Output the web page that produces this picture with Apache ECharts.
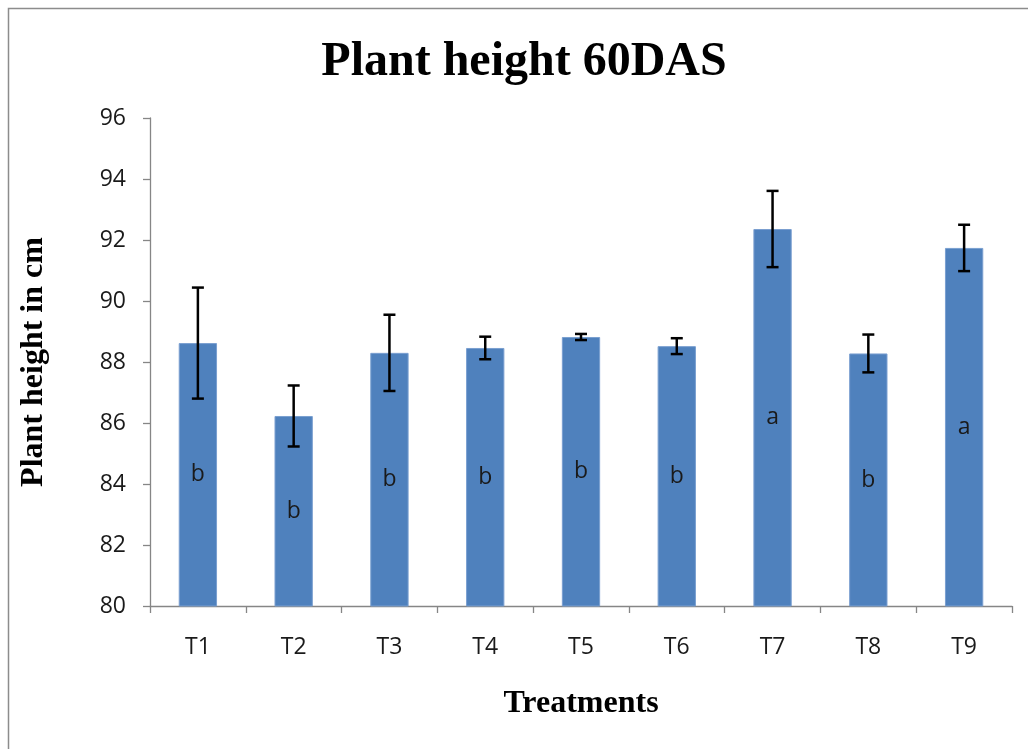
<!DOCTYPE html>
<html>
<head>
<meta charset="utf-8">
<script src="https://cdn.jsdelivr.net/npm/echarts@6/dist/echarts.min.js"></script>
<style>
html,body{margin:0;padding:0;background:#fff;}
#chart{width:1028px;height:749px;}
</style>
</head>
<body>
<div id="chart"></div>
<script>
const categories = ['T1','T2','T3','T4','T5','T6','T7','T8','T9'];
const heights = [88.62, 86.23, 88.30, 88.46, 88.82, 88.52, 92.36, 88.28, 91.74];
const errors = [1.82, 1.0, 1.25, 0.37, 0.1, 0.26, 1.25, 0.62, 0.76];
const letters = ['b','b','b','b','b','b','a','b','a'];
const yTicks = {min: 80, max: 96, interval: 2};

const errData = heights.map((h, i) => [i, h - errors[i], h + errors[i]]);

const chart = echarts.init(document.getElementById('chart'));
chart.setOption({
  animation: false,
  backgroundColor: '#fff',
  title: {
    text: 'Plant height 60DAS',
    left: 519, top: 34, textAlign: 'center',
    textStyle: {fontFamily: 'Liberation Serif', fontWeight: 'bold', fontSize: 48, color: '#000'}
  },
  graphic: [{
    type: 'rect', silent: true,
    shape: {x: 8.5, y: 8.5, width: 1040, height: 760},
    style: {fill: 'none', stroke: '#8c8c8c', lineWidth: 1.5}
  }],
  grid: {left: 150, right: 16, top: 118, bottom: 143},
  xAxis: {
    type: 'category', data: categories,
    name: 'Treatments', nameLocation: 'middle', nameGap: 82,
    nameTextStyle: {fontFamily: 'Liberation Serif', fontWeight: 'bold', fontSize: 32, color: '#000'},
    axisLine: {lineStyle: {color: '#868686', width: 1.3}},
    axisTick: {show: true, length: 7, lineStyle: {color: '#868686', width: 1.3}},
    axisLabel: {fontFamily: 'Open Sans', fontSize: 23, color: '#1a1a1a', margin: 30}
  },
  yAxis: {
    type: 'value', min: yTicks.min, max: yTicks.max, interval: yTicks.interval,
    name: 'Plant height in cm', nameLocation: 'middle', nameGap: 100,
    nameTextStyle: {fontFamily: 'Liberation Serif', fontWeight: 'bold', fontSize: 32, color: '#000'},
    axisLine: {show: true, lineStyle: {color: '#868686', width: 1.3}},
    axisTick: {show: true, length: 7, lineStyle: {color: '#868686', width: 1.3}},
    splitLine: {show: false},
    axisLabel: {fontFamily: 'Open Sans', fontSize: 23, color: '#1a1a1a', margin: 24}
  },
  series: [{
    type: 'bar', data: heights, barWidth: '40%',
    itemStyle: {color: '#4f81bd', borderColor: '#7a9fd0', borderWidth: 1},
    label: {
      show: true, position: 'inside',
      formatter: p => letters[p.dataIndex],
      fontFamily: 'Open Sans', fontSize: 23, color: '#1a1a1a'
    }
  }, {
    type: 'custom', data: errData, z: 10,
    renderItem: (params, api) => {
      const x = api.value(0);
      const lo = api.coord([x, api.value(1)]);
      const hi = api.coord([x, api.value(2)]);
      const cap = 6;
      const style = {stroke: '#000', lineWidth: 2.5};
      return {type: 'group', children: [
        {type: 'line', shape: {x1: lo[0], y1: lo[1], x2: hi[0], y2: hi[1]}, style},
        {type: 'line', shape: {x1: lo[0]-cap, y1: lo[1], x2: lo[0]+cap, y2: lo[1]}, style},
        {type: 'line', shape: {x1: hi[0]-cap, y1: hi[1], x2: hi[0]+cap, y2: hi[1]}, style}
      ]};
    }
  }]
});
</script>
</body>
</html>
